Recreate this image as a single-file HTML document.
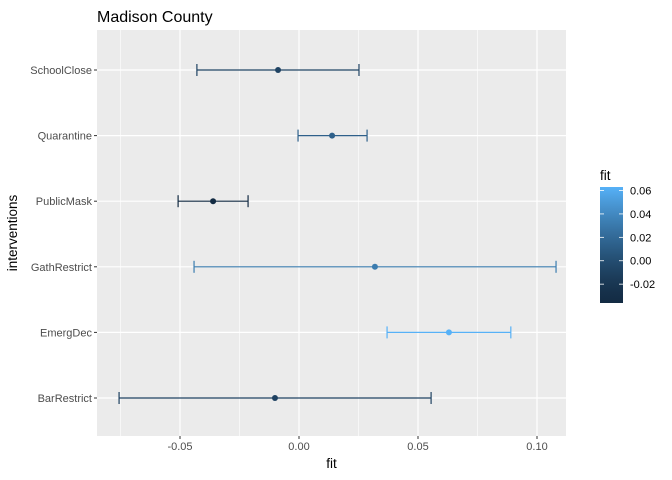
<!DOCTYPE html>
<html><head><meta charset="utf-8"><style>body{margin:0;background:#fff}svg{display:block;font-family:"Liberation Sans",sans-serif}</style></head>
<body>
<svg id="chart" width="672" height="480" viewBox="0 0 672 480"></svg>
<script>
const categories=["BarRestrict","EmergDec","GathRestrict","PublicMask","Quarantine","SchoolClose"];
const fitValues=[-0.0101,0.063,0.0319,-0.0361,0.0139,-0.0088];
const lowerValues=[-0.0756,0.037,-0.0441,-0.0508,-0.0004,-0.0429];
const upperValues=[0.0555,0.089,0.108,-0.0214,0.0286,0.0252];
const xTicks=[-0.05,0,0.05,0.10];
const xTickLabels=["-0.05","0.00","0.05","0.10"];
const legendTicks=[0.06,0.04,0.02,0.00,-0.02];
const legendTickLabels=["0.06","0.04","0.02","0.00","-0.02"];

const svg=document.getElementById('chart');
const NS='http://www.w3.org/2000/svg';
function mk(t,a,p){const e=document.createElementNS(NS,t);for(const k in a)e.setAttribute(k,a[k]);(p||svg).appendChild(e);return e;}
const L=97,R=566,T=30,B=436;
const x=v=>299+v*2380;
const y=i=>398-i*(398-70)/5;
const fmin=Math.min(...fitValues),fmax=Math.max(...fitValues);
function colT(t){t=Math.max(0,Math.min(1,t));const s=Math.pow(t,1.35);const a=[0x13,0x2B,0x43],b=[0x56,0xB1,0xF7];return 'rgb('+a.map((c,i)=>Math.round(c+(b[i]-c)*s)).join(',')+')';}
function col(v){return colT((v-fmin)/(fmax-fmin));}

let e=mk('rect',{x:L,y:T,width:R-L,height:B-T,fill:'#EBEBEB'});

for(let i=0;i<xTicks.length-1;i++){const m=(xTicks[i]+xTicks[i+1])/2;e=mk('line',{x1:x(m),x2:x(m),y1:T,y2:B,stroke:'#fff','stroke-width':0.6});}
{const m=xTicks[0]-0.025;if(x(m)>L){e=mk('line',{x1:x(m),x2:x(m),y1:T,y2:B,stroke:'#fff','stroke-width':0.6});}}
xTicks.forEach((v,i)=>{
 e=mk('line',{x1:x(v),x2:x(v),y1:T,y2:B,stroke:'#fff','stroke-width':1.2});
 e=mk('line',{x1:x(v),x2:x(v),y1:B,y2:B+3,stroke:'#333'});
 e=mk('text',{x:x(v),y:B+14,'font-size':11,fill:'#4D4D4D','text-anchor':'middle'});e.textContent=xTickLabels[i];
});
categories.forEach((c,i)=>{
 const yy=y(i);
 e=mk('line',{x1:L,x2:R,y1:yy,y2:yy,stroke:'#fff','stroke-width':1.2});
 e=mk('line',{x1:L-3,x2:L,y1:yy,y2:yy,stroke:'#333'});
 e=mk('text',{x:L-5,y:yy+4,'font-size':11,fill:'#4D4D4D','text-anchor':'end'});e.textContent=c;
});
categories.forEach((c,i)=>{
 const yy=y(i),cl=col(fitValues[i]);
 const g=mk('g',{stroke:cl,'stroke-width':1.2});
 mk('line',{x1:x(lowerValues[i]),x2:x(upperValues[i]),y1:yy,y2:yy},g);
 mk('line',{x1:x(lowerValues[i]),x2:x(lowerValues[i]),y1:yy-6,y2:yy+6},g);
 mk('line',{x1:x(upperValues[i]),x2:x(upperValues[i]),y1:yy-6,y2:yy+6},g);
 e=mk('circle',{cx:x(fitValues[i]),cy:yy,r:3,fill:cl});
});
e=mk('text',{x:97,y:22,'font-size':16,fill:'#000'});e.textContent='Madison County';
e=mk('text',{x:(L+R)/2,y:468,'font-size':13.5,fill:'#000','text-anchor':'middle'});e.textContent='fit';
e=mk('text',{x:0,y:0,'font-size':13.5,fill:'#000','text-anchor':'middle',transform:'translate(17,233) rotate(-90)'});e.textContent='interventions';
e=mk('text',{x:600,y:180,'font-size':13.5,fill:'#000'});e.textContent='fit';
const defs=mk('defs',{});const gr=mk('linearGradient',{id:'lg',x1:0,y1:1,x2:0,y2:0},defs);
for(let k=0;k<=10;k++)mk('stop',{offset:k/10,'stop-color':colT(k/10)},gr);
const lt=187,lb=303,ly=v=>lb-(v-fmin)/(fmax-fmin)*(lb-lt);
e=mk('rect',{x:600,y:lt,width:23,height:lb-lt,fill:'url(#lg)'});
legendTicks.forEach((v,i)=>{
 const yy=ly(v);
 mk('line',{x1:600,x2:604,y1:yy,y2:yy,stroke:'#fff','stroke-width':0.8});
 mk('line',{x1:619,x2:623,y1:yy,y2:yy,stroke:'#fff','stroke-width':0.8});
 e=mk('text',{x:630,y:yy+4,'font-size':11,fill:'#000'});e.textContent=legendTickLabels[i];
});
</script>
</body></html>
